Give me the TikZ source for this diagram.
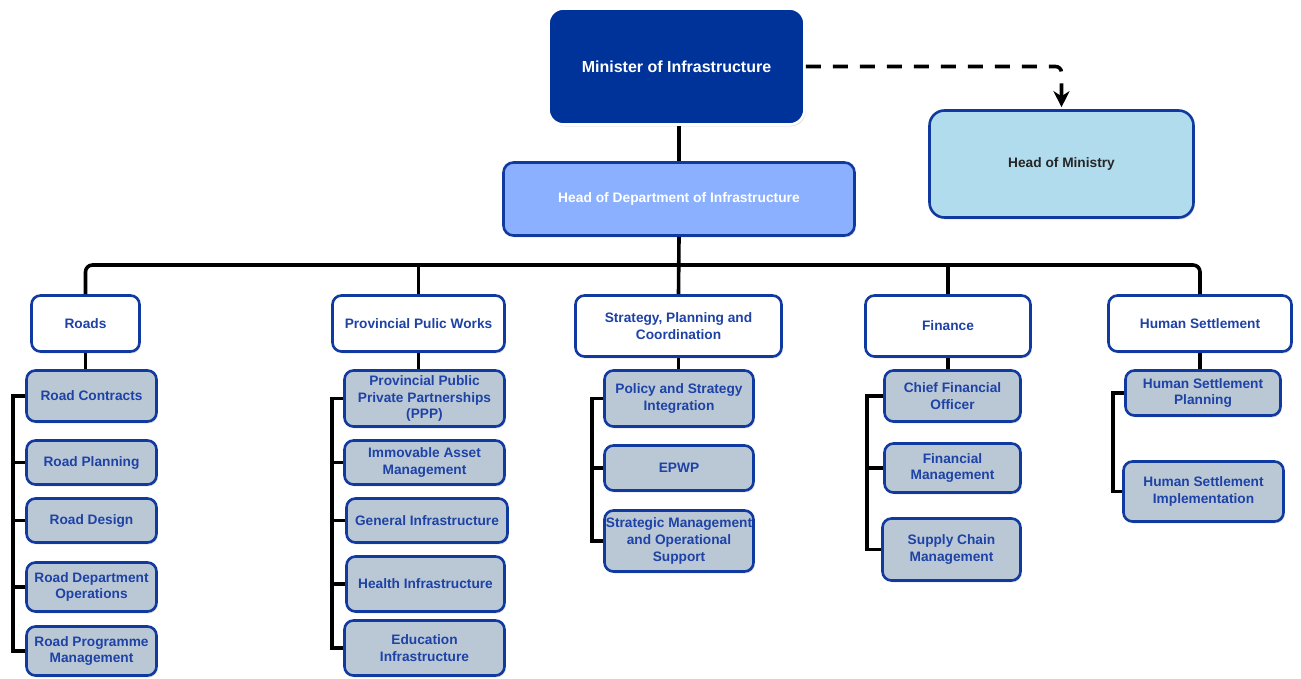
\documentclass[tikz,border=0pt]{standalone}
\usepackage{fontspec}
\setmainfont{Liberation Sans}
\usetikzlibrary{arrows.meta,shadows}
\definecolor{minfill}{RGB}{0,51,153}
\definecolor{hodfill}{RGB}{138,176,255}
\definecolor{homfill}{RGB}{176,220,238}
\definecolor{subfill}{RGB}{186,200,214}
\definecolor{bord}{RGB}{16,58,160}
\definecolor{txtblue}{RGB}{30,66,165}
\tikzset{
  shad/.style={drop shadow={shadow xshift=1.2pt,shadow yshift=-1.8pt,opacity=0.25,fill=black!60}},
  basebox/.style={rectangle,rounded corners=9pt,line width=2.6pt,draw=bord,align=center,inner sep=0pt,
     font=\fontsize{13.7}{16.7}\selectfont\bfseries,text=txtblue,shad},
  headbox/.style={basebox,fill=white},
  subbox/.style={basebox,fill=subfill},
  conn/.style={line width=3.6pt,black},
  dashline/.style={line width=3.6pt,black,dash pattern=on 15pt off 12pt,rounded corners=6pt}
}
\begin{document}
\begin{tikzpicture}[x=1pt,y=-1pt]
\useasboundingbox (0,0) rectangle (1301,679);
% top level
\node[rectangle,rounded corners=15pt,fill=minfill,draw=white,line width=2.6pt,shad,
  minimum width=256pt,minimum height=116pt,text=white,font=\fontsize{16}{19}\selectfont\bfseries]
  (min) at (676.5,66.5) {Minister of Infrastructure};
\node[basebox,rounded corners=15pt,fill=homfill,text=black!85,minimum width=264pt,minimum height=107pt]
  (hom) at (1061.5,164) {Head of Ministry};
\node[basebox,rounded corners=10pt,fill=hodfill,draw=bord,text=white,minimum width=351pt,minimum height=73pt,
  font=\fontsize{13.8}{16.7}\selectfont\bfseries]
  (hod) at (679,199) {Head of Department of Infrastructure};
% headers
\node[headbox,minimum width=108pt,minimum height=56pt] (roads) at (85.5,323.5) {Roads};
\node[headbox,minimum width=172pt,minimum height=56pt] (ppw) at (418.5,323.5) {Provincial Pulic Works};
\node[headbox,minimum width=206pt,minimum height=61pt] (spc) at (678.5,326) {Strategy, Planning and\\Coordination};
\node[headbox,minimum width=165pt,minimum height=61pt] (fin) at (948,326) {Finance};
\node[headbox,minimum width=183pt,minimum height=56pt] (hs) at (1200,323.5) {Human Settlement};
% roads subs
\node[subbox,minimum width=130pt,minimum height=51pt] (rc) at (91.5,396) {Road Contracts};
\node[subbox,minimum width=130pt,minimum height=44pt] (rp) at (91.5,462.5) {Road Planning};
\node[subbox,minimum width=130pt,minimum height=44pt] (rd) at (91.5,520.5) {Road Design};
\node[subbox,minimum width=130pt,minimum height=49pt] (ro) at (91.5,587) {Road Department\\Operations};
\node[subbox,minimum width=130pt,minimum height=49pt] (rpm) at (91.5,651) {Road Programme\\Management};
% ppw subs
\node[subbox,minimum width=160pt,minimum height=56pt] (ppp) at (424.5,398.5) {Provincial Public\\Private Partnerships\\(PPP)};
\node[subbox,minimum width=160pt,minimum height=44pt] (iam) at (424.5,462.5) {Immovable Asset\\Management};
\node[subbox,minimum width=161pt,minimum height=44pt] (gi) at (427,520.5) {General Infrastructure};
\node[subbox,minimum width=158pt,minimum height=55pt] (hi) at (425.5,584) {Health Infrastructure};
\node[subbox,minimum width=160pt,minimum height=55pt] (ei) at (424.5,648) {Education\\Infrastructure};
% strategy subs
\node[subbox,minimum width=149pt,minimum height=56pt] (psi) at (679,398.5) {Policy and Strategy\\Integration};
\node[subbox,minimum width=149pt,minimum height=45pt] (epwp) at (679,468) {EPWP};
\node[subbox,minimum width=149pt,minimum height=61pt] (smos) at (679,541) {Strategic Management\\and Operational\\Support};
% finance subs
\node[subbox,minimum width=136pt,minimum height=51pt] (cfo) at (952.5,396) {Chief Financial\\Officer};
\node[subbox,minimum width=136pt,minimum height=49pt] (fm) at (952.5,468) {Financial\\Management};
\node[subbox,minimum width=138pt,minimum height=62pt] (scm) at (951.5,549.5) {Supply Chain\\Management};
% hs subs
\node[subbox,minimum width=155pt,minimum height=45pt] (hsp) at (1203,393) {Human Settlement\\Planning};
\node[subbox,minimum width=160pt,minimum height=60pt] (hsi) at (1203.5,491.5) {Human Settlement\\Implementation};
% bus x positions
\coordinate (rbus) at (13,0);
\coordinate (pbus) at (332,0);
\coordinate (sbus) at (592,0);
\coordinate (fbus) at (867,0);
\coordinate (hbus) at (1113,0);
\coordinate (mainbus) at (0,265);
% top connectors
\draw[conn] (min.south -| hod.north) -- (hod.north);
\draw[conn] (hod.south) -- (spc.north);
\draw[conn,rounded corners=7pt] (roads.north) |- (hs.north |- mainbus) -- (hs.north);
\draw[conn] (ppw.north |- mainbus) -- (ppw.north);
\draw[conn] (fin.north |- mainbus) -- (fin.north);
\draw[dashline,-{Stealth[length=16pt,width=16pt,inset=5pt]},shorten >=2pt] (min.east) -| (hom.north);
% header to first child
\draw[conn] (roads.south) -- (roads.south |- rc.north);
\draw[conn] (ppw.south) -- (ppw.south |- ppp.north);
\draw[conn] (spc.south) -- (spc.south |- psi.north);
\draw[conn] (fin.south) -- (fin.south |- cfo.north);
\draw[conn] (hs.south) -- (hs.south |- hsp.north);
% child buses
\draw[conn] (rc.west) -- (rc.west -| rbus) |- (rpm.west);
\foreach \n in {rp,rd,ro} \draw[conn] (\n.west) -- (\n.west -| rbus);
\draw[conn] (ppp.west) -- (ppp.west -| pbus) |- (ei.west);
\foreach \n in {iam,gi,hi} \draw[conn] (\n.west) -- (\n.west -| pbus);
\draw[conn] (psi.west) -- (psi.west -| sbus) |- (smos.west);
\draw[conn] (epwp.west) -- (epwp.west -| sbus);
\draw[conn] (cfo.west) -- (cfo.west -| fbus) |- (scm.west);
\draw[conn] (fm.west) -- (fm.west -| fbus);
\draw[conn] (hsp.west) -- (hsp.west -| hbus) |- (hsi.west);
\end{tikzpicture}
\end{document}
